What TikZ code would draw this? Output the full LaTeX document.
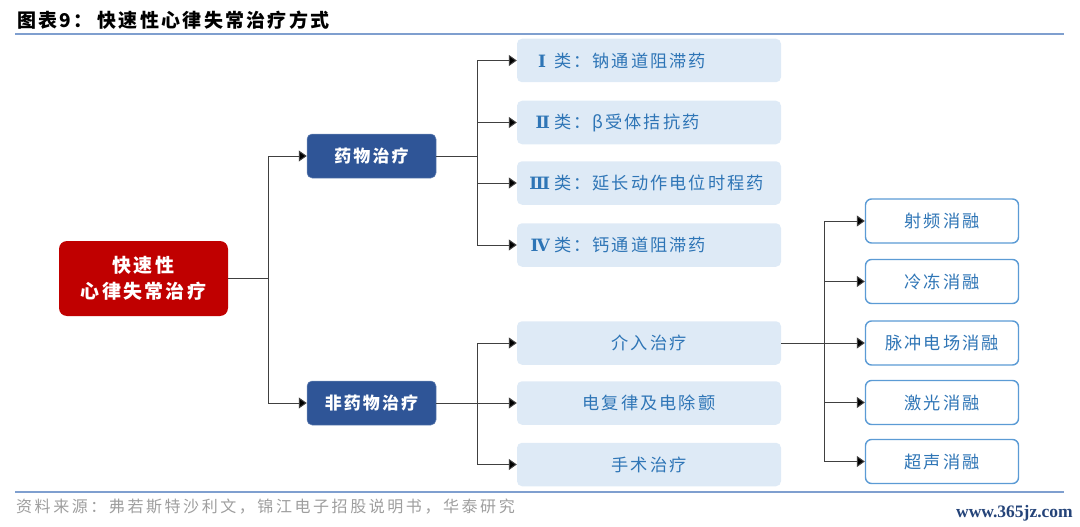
\documentclass[tikz,border=0pt]{standalone}
\usepackage{fontspec}
\usepackage{tikz}
\usetikzlibrary{arrows.meta}
\newfontfamily\cjk[LetterSpace=12]{Noto Sans CJK SC}
\newfontfamily\cjkfoot[LetterSpace=16]{Noto Sans CJK SC}
\newfontfamily\romfont{DejaVu Serif}
\newfontfamily\webfont{Liberation Serif}
\definecolor{rootred}{HTML}{C00000}
\definecolor{midblue}{HTML}{2F5597}
\definecolor{paleblue}{HTML}{DEEAF6}
\definecolor{edgeblue}{HTML}{5B9BD5}
\definecolor{textblue}{HTML}{2E75B6}
\definecolor{rulegray}{HTML}{7F9FCF}
\newcommand{\romnum}[1]{\hspace{6.5pt}\makebox[20pt][r]{\romfont\bfseries\fontsize{17}{17}\selectfont #1}\hspace{4pt}}
\begin{document}
\begin{tikzpicture}[x=1pt,y=-1pt]
  \tikzstyle{RootStyle}=[rounded corners=8pt,fill=rootred,text=white,inner sep=0pt,
    minimum width=169pt,minimum height=75pt,align=center,font=\cjk\bfseries\fontsize{19}{26}\selectfont]
  \tikzstyle{MidStyle}=[rounded corners=5pt,fill=midblue,draw=midblue!70!white,line width=0.5pt,text=white,inner sep=0pt,
    minimum width=129pt,minimum height=44pt,font=\cjk\bfseries\fontsize{17}{20}\selectfont]
  \tikzstyle{PaleStyle}=[rounded corners=5pt,fill=paleblue,inner sep=0pt,text=textblue,
    minimum width=264pt,minimum height=43.5pt,font=\cjk\fontsize{17.2}{20}\selectfont]
  \tikzstyle{OutStyle}=[rounded corners=6pt,fill=white,draw=edgeblue,line width=1.4pt,text=textblue,inner sep=0pt,
    minimum width=153pt,minimum height=44pt,font=\cjk\fontsize{17.2}{20}\selectfont]
  \tikzstyle{LinkStyle}=[draw=black!75,line width=1pt]
  \tikzstyle{ArrowStyle}=[LinkStyle,-{Triangle[length=8pt,width=11pt,fill=black]}]
  \useasboundingbox (0,0) rectangle (1080,527);
  % title and rules
  \node[anchor=west,inner sep=0pt,font=\cjk\bfseries\fontsize{19}{20}\selectfont] (title) at (17,20) {图表9：\hspace{5pt}快速性心律失常治疗方式};
  \coordinate (ruleAl) at (15,34);
  \coordinate (ruleAr) at (1064,34);
  \coordinate (ruleBl) at (15,492);
  \coordinate (ruleBr) at (1064,492);
  \draw[rulegray,line width=1.2pt] (ruleAl) -- (ruleAr);
  \draw[rulegray,line width=1.2pt] (ruleBl) -- (ruleBr);
  % nodes
  \node[RootStyle] (root) at (143.5,278.5) {快速性\\心律失常治疗};
  \node[MidStyle] (drug) at (371.5,156) {药物治疗};
  \node[MidStyle] (nondrug) at (371.5,403) {非药物治疗};
  \node[PaleStyle,text width=251pt,align=left] (classA) at (649,60.5) {\romnum{Ⅰ\hspace{4pt}}类：钠通道阻滞药};
  \node[PaleStyle,text width=251pt,align=left] (classB) at (649,122.5) {\romnum{Ⅱ}类：β受体拮抗药};
  \node[PaleStyle,text width=251pt,align=left] (classC) at (649,183) {\romnum{Ⅲ}类：延长动作电位时程药};
  \node[PaleStyle,text width=251pt,align=left] (classD) at (649,245) {\romnum{Ⅳ}类：钙通道阻滞药};
  \node[PaleStyle] (inter) at (649,343) {介入治疗};
  \node[PaleStyle] (device) at (649,403) {电复律及电除颤};
  \node[PaleStyle] (surgery) at (649,464.5) {手术治疗};
  \node[OutStyle] (radio) at (942,221) {射频消融};
  \node[OutStyle] (cold) at (942,281.5) {冷冻消融};
  \node[OutStyle] (pulse) at (942,343) {脉冲电场消融};
  \node[OutStyle] (laser) at (942,402.5) {激光消融};
  \node[OutStyle] (sound) at (942,461.5) {超声消融};
  % junctions
  \coordinate (jroot) at (268,278.5);
  \coordinate (jdrug) at (477,156);
  \coordinate (jnon) at (477,403);
  \coordinate (jinter) at (824,343);
  \draw[LinkStyle] (root.east) -- (jroot);
  \draw[ArrowStyle] (jroot) |- (drug.west);
  \draw[ArrowStyle] (jroot) |- (nondrug.west);
  \draw[LinkStyle] (drug.east) -- (jdrug);
  \draw[ArrowStyle] (jdrug) |- (classA.west);
  \draw[ArrowStyle] (jdrug) |- (classB.west);
  \draw[ArrowStyle] (jdrug) |- (classC.west);
  \draw[ArrowStyle] (jdrug) |- (classD.west);
  \draw[LinkStyle] (nondrug.east) -- (jnon);
  \draw[ArrowStyle] (jnon) |- (inter.west);
  \draw[ArrowStyle] (jnon) -- (device.west);
  \draw[ArrowStyle] (jnon) |- (surgery.west);
  \draw[LinkStyle] (inter.east) -- (jinter);
  \draw[ArrowStyle] (jinter) |- (radio.west);
  \draw[ArrowStyle] (jinter) |- (cold.west);
  \draw[ArrowStyle] (jinter) -- (pulse.west);
  \draw[ArrowStyle] (jinter) |- (laser.west);
  \draw[ArrowStyle] (jinter) |- (sound.west);
  % source and site mark
  \node[anchor=west,inner sep=0pt,text=black!38,font=\cjkfoot\fontsize{16}{18}\selectfont] (source) at (16,507) {资料来源：弗若斯特沙利文，锦江电子招股说明书，华泰研究};
  \node[anchor=east,inner sep=0pt,text=midblue!80!black,font=\webfont\bfseries\fontsize{17.5}{20}\selectfont] (site) at (1073,513) {www.365jz.com};
\end{tikzpicture}
\end{document}
